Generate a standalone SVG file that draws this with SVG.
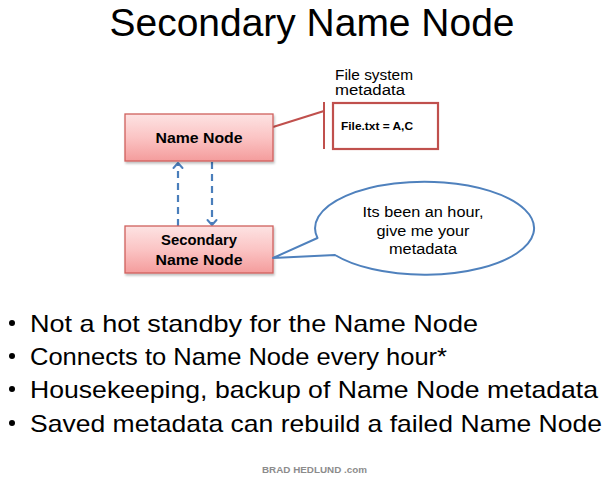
<svg xmlns="http://www.w3.org/2000/svg" width="610" height="482" viewBox="0 0 610 482">
<defs>
<linearGradient id="pink" x1="0" y1="0" x2="0" y2="1">
<stop offset="0" stop-color="#fde3e3"/>
<stop offset="0.5" stop-color="#fbc4c4"/>
<stop offset="1" stop-color="#f49c9c"/>
</linearGradient>
<filter id="sh" x="-10%" y="-10%" width="130%" height="140%">
<feDropShadow dx="1" dy="2" stdDeviation="1.2" flood-color="#000" flood-opacity="0.25"/>
</filter>
</defs>
<style>
text{font-family:"Liberation Sans",Arial,sans-serif;fill:#000}
.node{fill:url(#pink);stroke:#d0605c;stroke-width:1.3}
.lbl{font-size:14px;font-weight:bold;text-anchor:middle}
.bul{font-size:24px}
.dash{stroke:#4a7ebb;stroke-width:2.2;stroke-dasharray:7,5;fill:none}
.head{stroke:#4a7ebb;stroke-width:2;fill:none;stroke-linecap:round;stroke-linejoin:round}
.call{font-size:14px;text-anchor:middle}
</style>
<rect width="610" height="482" fill="#fff"/>
<text x="312" y="36" font-size="38" text-anchor="middle" textLength="405" lengthAdjust="spacingAndGlyphs">Secondary Name Node</text>

<g id="connectors">
<path d="M273,127 L324,111" stroke="#c0504d" stroke-width="2" fill="none"/>
<path d="M324,102 L324,149" stroke="#c0504d" stroke-width="2" fill="none"/>
<line class="dash" x1="178" y1="226" x2="178" y2="164"/>
<path class="head" d="M173.5,168 L178,163 L182.5,168"/>
<line class="dash" x1="212" y1="162" x2="212" y2="224"/>
<path class="head" d="M207.5,220 L212,225 L216.5,220"/>
</g>

<g id="name-node">
<rect class="node" x="125" y="114" width="148" height="47" filter="url(#sh)"/>
<text class="lbl" x="199" y="143" textLength="87" lengthAdjust="spacingAndGlyphs">Name Node</text>
</g>

<g id="secondary-name-node">
<rect class="node" x="125" y="226" width="148" height="47" filter="url(#sh)"/>
<text class="lbl" x="199" y="245" textLength="76" lengthAdjust="spacingAndGlyphs">Secondary</text>
<text class="lbl" x="199" y="265" textLength="87" lengthAdjust="spacingAndGlyphs">Name Node</text>
</g>

<g id="metadata">
<text x="335" y="80" font-size="14" textLength="78" lengthAdjust="spacingAndGlyphs">File system</text>
<text x="335" y="95" font-size="14" textLength="70" lengthAdjust="spacingAndGlyphs">metadata</text>
<rect x="333" y="103" width="105" height="46" fill="#fff" stroke="#c0504d" stroke-width="2.2"/>
<text x="341" y="130" font-size="11" font-weight="bold" textLength="72" lengthAdjust="spacingAndGlyphs">File.txt = A,C</text>
</g>

<g id="callout">
<path d="M317.5,238 A109.5,46.5 0 1 1 335,255 L273,258 Z" fill="#fff" stroke="#4f81bd" stroke-width="2" stroke-linejoin="round"/>
<text class="call" x="423" y="217" textLength="121" lengthAdjust="spacingAndGlyphs">Its been an hour,</text>
<text class="call" x="423" y="236" textLength="93" lengthAdjust="spacingAndGlyphs">give me your</text>
<text class="call" x="423" y="254" textLength="68" lengthAdjust="spacingAndGlyphs">metadata</text>
</g>

<g id="bullets">
<circle cx="12" cy="323" r="3" fill="#000"/>
<circle cx="12" cy="356" r="3" fill="#000"/>
<circle cx="12" cy="389" r="3" fill="#000"/>
<circle cx="12" cy="423" r="3" fill="#000"/>
<text class="bul" x="30" y="332" textLength="448" lengthAdjust="spacingAndGlyphs">Not a hot standby for the Name Node</text>
<text class="bul" x="30" y="365" textLength="417" lengthAdjust="spacingAndGlyphs">Connects to Name Node every hour*</text>
<text class="bul" x="30" y="398" textLength="568" lengthAdjust="spacingAndGlyphs">Housekeeping, backup of Name Node metadata</text>
<text class="bul" x="30" y="432" textLength="572" lengthAdjust="spacingAndGlyphs">Saved metadata can rebuild a failed Name Node</text>
</g>

<text x="262" y="473" font-size="9" font-weight="bold" style="fill:#8c8c8c" textLength="105" lengthAdjust="spacingAndGlyphs">BRAD HEDLUND .com</text>
</svg>
